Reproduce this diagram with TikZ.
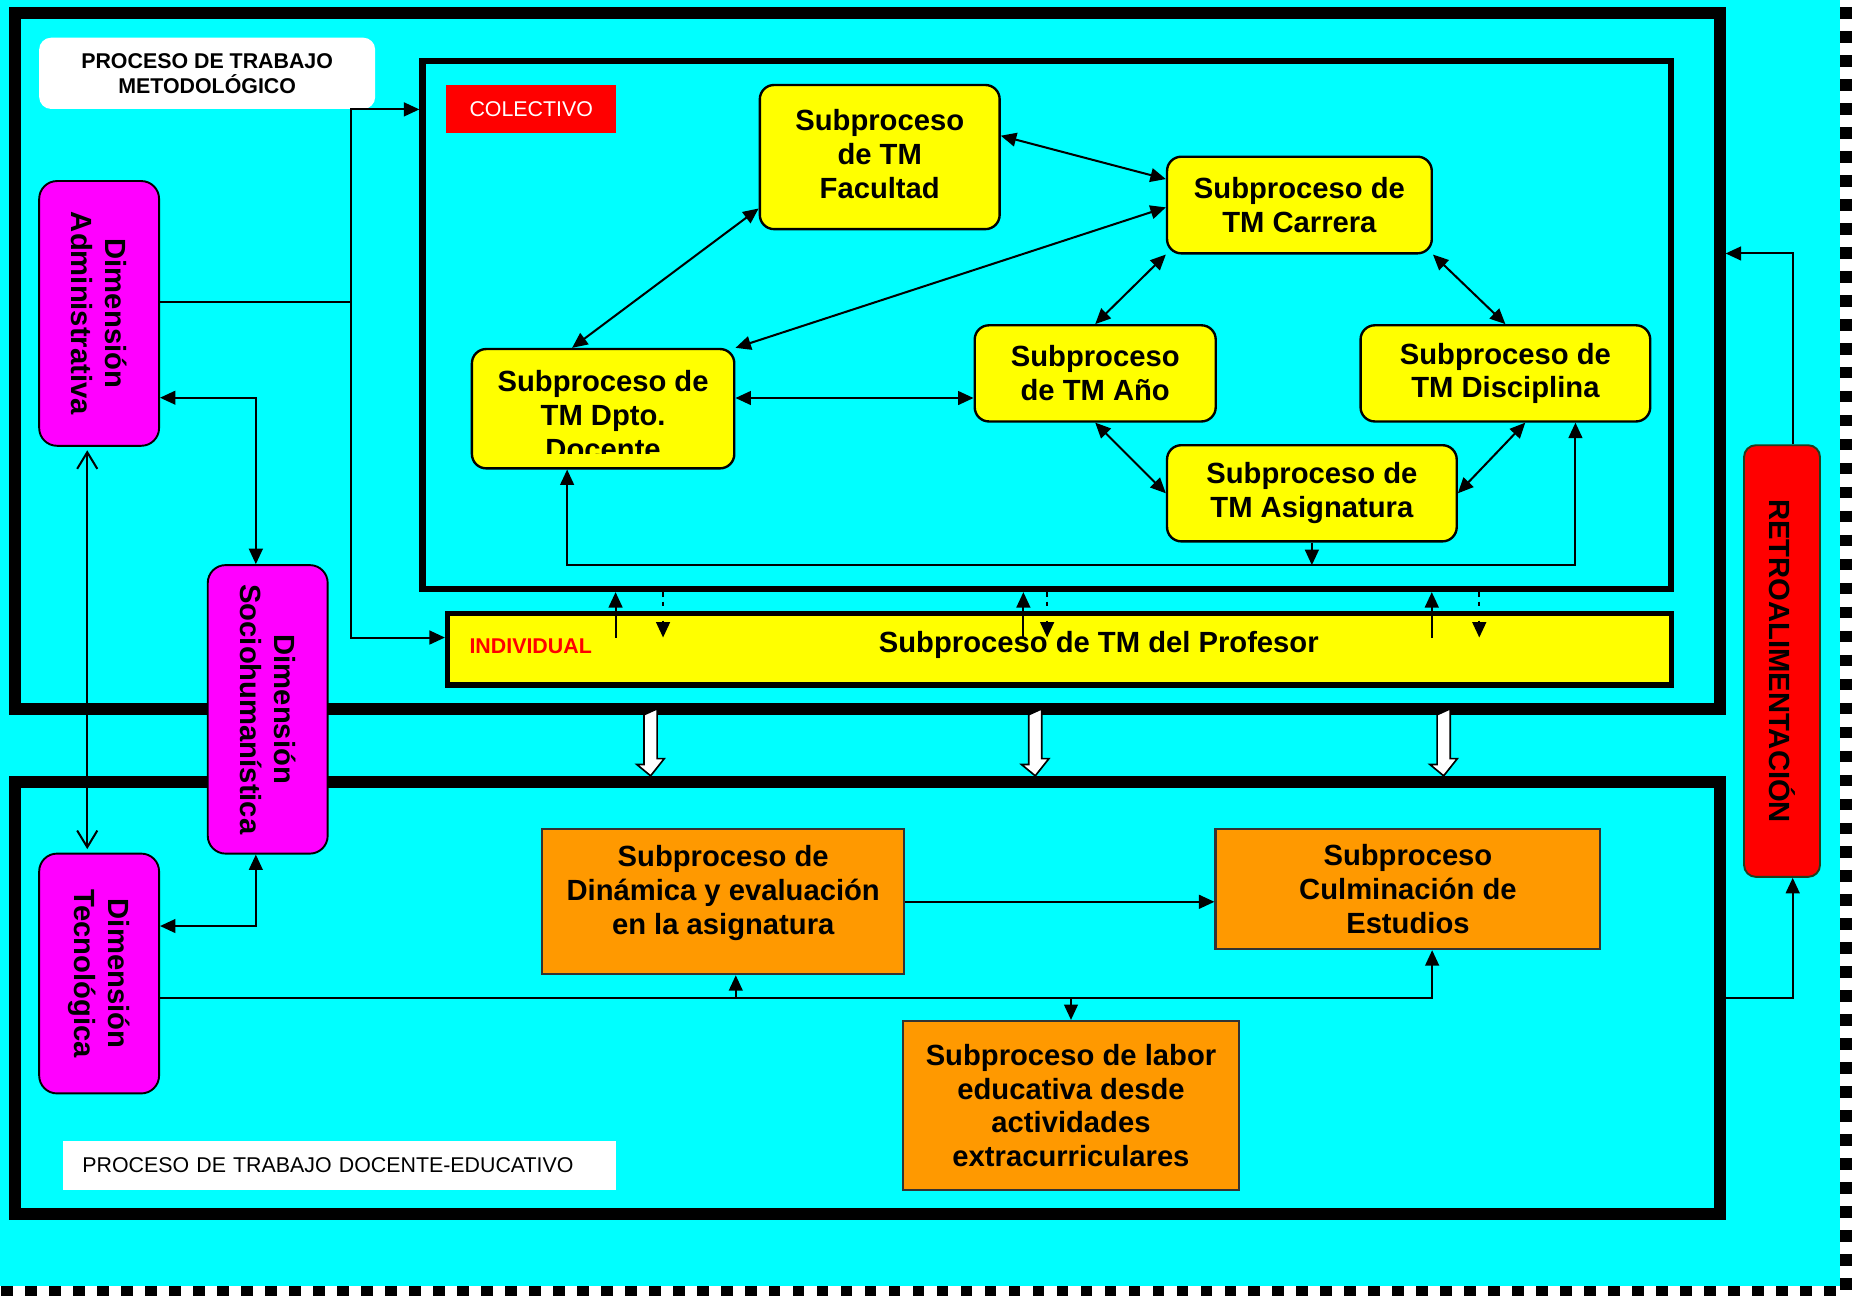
\documentclass[tikz,border=0pt]{standalone}
\usepackage{fontspec}
\setmainfont{Liberation Sans}
\usetikzlibrary{arrows.meta,positioning}

\definecolor{celeste}{HTML}{00FFFF}
\definecolor{amarillo}{HTML}{FFFF00}
\definecolor{lila}{HTML}{FF00FF}
\definecolor{naranja}{HTML}{FF9900}
\definecolor{rojo}{HTML}{FF0000}
\definecolor{bordeverde}{HTML}{1F3F1F}

\newcommand{\letra}{\bfseries\fontsize{12.3}{14.25}\selectfont}
\newcommand{\letrachica}{\fontsize{9}{10.5}\selectfont}

\begin{document}
\begin{tikzpicture}[x=0.5pt,y=-0.5pt,
  >={Triangle[length=6.5pt,width=5.8pt]},
  barb/.tip={Straight Barb[length=7pt,width=8.5pt]},
  con/.style={line width=0.85pt},
  marco/.style={draw,line width=5pt,inner sep=0pt},
  sub/.style={draw,line width=1pt,fill=amarillo,rounded corners=6pt,align=center,inner sep=0pt,font=\letra},
  texto/.style={align=center,inner sep=0pt,font=\letra},
  dim/.style={draw,line width=0.8pt,fill=lila,rounded corners=7.5pt,rotate=-90,align=center,inner sep=0pt,minimum height=50.5pt,font=\letra},
  caja/.style={draw=black!80,line width=0.9pt,fill=naranja,align=center,inner sep=0pt,font=\letra},
  bloque/.style={draw,line width=0.7pt,fill=white}]

  \useasboundingbox (0,0) rectangle (1565,1091);
  \fill[white] (0,0) rectangle (1565,1091);
  \fill[celeste] (0,0) rectangle (1555,1088);
  \draw[white,line width=5pt] (1555,0) -- (1555,1088) -- (0,1088);
  \draw[line width=5pt,dash pattern=on 4.9pt off 5.2pt,dash phase=7.1pt] (1555,0) -- (1555,1088) -- (0,1088);

  % marcos
  \node[marco,minimum width=717.75pt,minimum height=293pt] (tm) at (730.75,304) {};
  \node[marco,minimum width=717.75pt,minimum height=182pt] (td) at (730.75,840.5) {};
  \node[draw,line width=2.75pt,minimum width=525.75pt,minimum height=222.25pt] (col) at (881.75,273.75) {};
  \node[draw,line width=2.25pt,fill=amarillo,minimum width=515.5pt,minimum height=30.2pt] (ind) at (892.5,546.8) {};

  \node[fill=white,rounded corners=5pt,minimum width=141.5pt,minimum height=30pt,align=center,font=\bfseries\letrachica] (tml) at (174.5,61.75) {PROCESO DE TRABAJO\\METODOLÓGICO};
  \node[fill=white,minimum height=20.5pt,text width=216.8pt,inner xsep=8pt,align=left,font=\letrachica] (tde) at (286.2,981.5) {PROCESO DE TRABAJO DOCENTE-EDUCATIVO};
  \node[fill=rojo,text=white,minimum width=71.5pt,minimum height=20.2pt,font=\letrachica] (colec) at (447.5,92) {COLECTIVO};
  \node[text=rojo,font=\bfseries\letrachica,inner sep=0pt] (indiv) at (447,544.5) {INDIVIDUAL};
  \node[texto] (prof) at (925.5,543) {Subproceso de TM del Profesor};

  % subprocesos colectivos
  \node[sub,minimum width=101pt,minimum height=60.7pt] (fac) at (741,132.3) {};
  \node[texto] (factxt) at (741,129.5) {Subproceso\\de TM\\Facultad};
  \node[sub,minimum width=111.5pt,minimum height=40.7pt] (car) at (1094.5,172.7) {Subproceso de\\TM Carrera};
  \node[sub,minimum width=110.5pt,minimum height=50.25pt] (dpt) at (508,344.25) {};
  \node[sub,minimum width=101.5pt,minimum height=40.5pt] (ano) at (922.5,314.5) {Subproceso\\de TM Año};
  \node[sub,minimum width=122pt,minimum height=40.5pt] (dis) at (1268,314.5) {Subproceso de\\TM Disciplina};
  \node[sub,minimum width=122pt,minimum height=40.5pt] (asig) at (1105,415.5) {Subproceso de\\TM Asignatura};
  \begin{scope}
    \clip (dpt.north west) rectangle (dpt.east |- 0,382);
    \node[texto] (dpttxt) at (508,349.5) {Subproceso de\\TM Dpto.\\Docente};
  \end{scope}

  \draw[con,<->] (fac.203) -- (dpt.117);
  \draw[con,<->] (fac.10) -- (car.169);
  \draw[con,<->] (car.181) -- (dpt.north east);
  \draw[con,<->] (car.south west) -- (ano.north);
  \draw[con,<->] (car.south east) -- (dis.north);
  \coordinate (dptano) at ([yshift=4.5pt]dpt.east);
  \draw[con,<->] (dptano) -- (dptano -| ano.west);
  \draw[con,<->] (ano.south) -- (asig.west);
  \draw[con,<->] (dis.-68) -- (asig.east);

  \coordinate (cbus) at (0,476);
  \coordinate (dptin) at ([xshift=-15.15pt]dpt.south);
  \coordinate (disin) at ([xshift=29.5pt]dis.south);
  \draw[con,->] (asig.south) -- (asig.south |- cbus);
  \draw[con,<->] (dptin) -- (dptin |- cbus) -- (disin |- cbus) -- (disin);

  \coordinate (indln) at (0,537);
  \foreach \xa/\xb in {518.5/558.5, 862/882, 1206/1246} {
    \draw[con,->] (indln -| \xa,0) -- (col.south -| \xa,0);
    \draw[con,->,dash pattern=on 2pt off 2pt] (col.south -| \xb,0) -- (indln -| \xb,0);
  }

  % dimensiones
  \node[dim,minimum width=111.5pt] (adm) at (83.5,264) {Dimensión\\Administrativa};
  \node[dim,minimum width=121.5pt] (soc) at (225.5,597.5) {Dimensión\\Sociohumanística};
  \node[dim,minimum width=101pt] (tec) at (83.5,820) {Dimensión\\Tecnológica};
  \node[dim,fill=rojo,draw=bordeverde,rounded corners=5pt,minimum width=181.8pt,minimum height=32pt] (ret) at (1501,556.8) {RETROALIMENTACIÓN};

  \coordinate (rama) at (296,254);
  \draw[con] (adm.north |- rama) -- (rama);
  \draw[con,->] (rama) |- (col.west |- tml.south);
  \draw[con,->] (rama) |- ([yshift=4.9pt]ind.west);
  \coordinate (admsoc) at ([xshift=-5pt]soc.west);
  \draw[con,<->] (adm.north |- 0,335) -| (admsoc);
  \coordinate (soctec) at ([xshift=-5pt]soc.east);
  \draw[con,<->] (soctec) |- (tec.north |- 0,780);
  \draw[con,barb-barb,shorten <=1.5pt,shorten >=1.5pt] ([xshift=-5pt]adm.east) -- ([xshift=-5pt]tec.west);

  % proceso docente-educativo
  \node[caja,minimum width=152.45pt,minimum height=61pt] (din) at (609.15,759.6) {};
  \node[texto] (dintxt) at ([yshift=3.8pt]din.center) {Subproceso de\\Dinámica y evaluación\\en la asignatura};
  \node[caja,minimum width=162.1pt,minimum height=50.45pt] (cul) at (1185.9,749) {Subproceso\\Culminación de\\Estudios};
  \node[caja,minimum width=141.7pt,minimum height=71.25pt] (lab) at (902.1,931.25) {Subproceso de labor\\educativa desde\\actividades\\extracurriculares};

  \coordinate (bus) at (0,840.5);
  \coordinate (dinin) at ([xshift=5.3pt]din.south);
  \coordinate (culin) at ([xshift=10.2pt]cul.south);
  \draw[con,->] (tec.north |- bus) -| (culin);
  \draw[con,->] (dinin |- bus) -- (dinin);
  \draw[con,->] (lab.north |- bus) -- (lab.north);
  \draw[con,->] (din.east) -- (din.east -| cul.west);
  \coordinate (retin) at ([xshift=4.5pt]ret.east);
  \coordinate (retout) at ([xshift=4.5pt]ret.west);
  \draw[con,->] (td.east) -| (retin);
  \draw[con,->] (retout) |- (tm.east |- 0,213.5);

  \foreach \x in {548,872,1216}
    \draw[bloque] (tm.south -| \x,0) ++(-5.5,0) -- ++(0,42) -- ++(-6,0) -- (td.north -| \x,0) -- ++(11.5,-14.5) -- ++(-6,0) -- ++(0,-42) -- cycle;
\end{tikzpicture}
\end{document}
